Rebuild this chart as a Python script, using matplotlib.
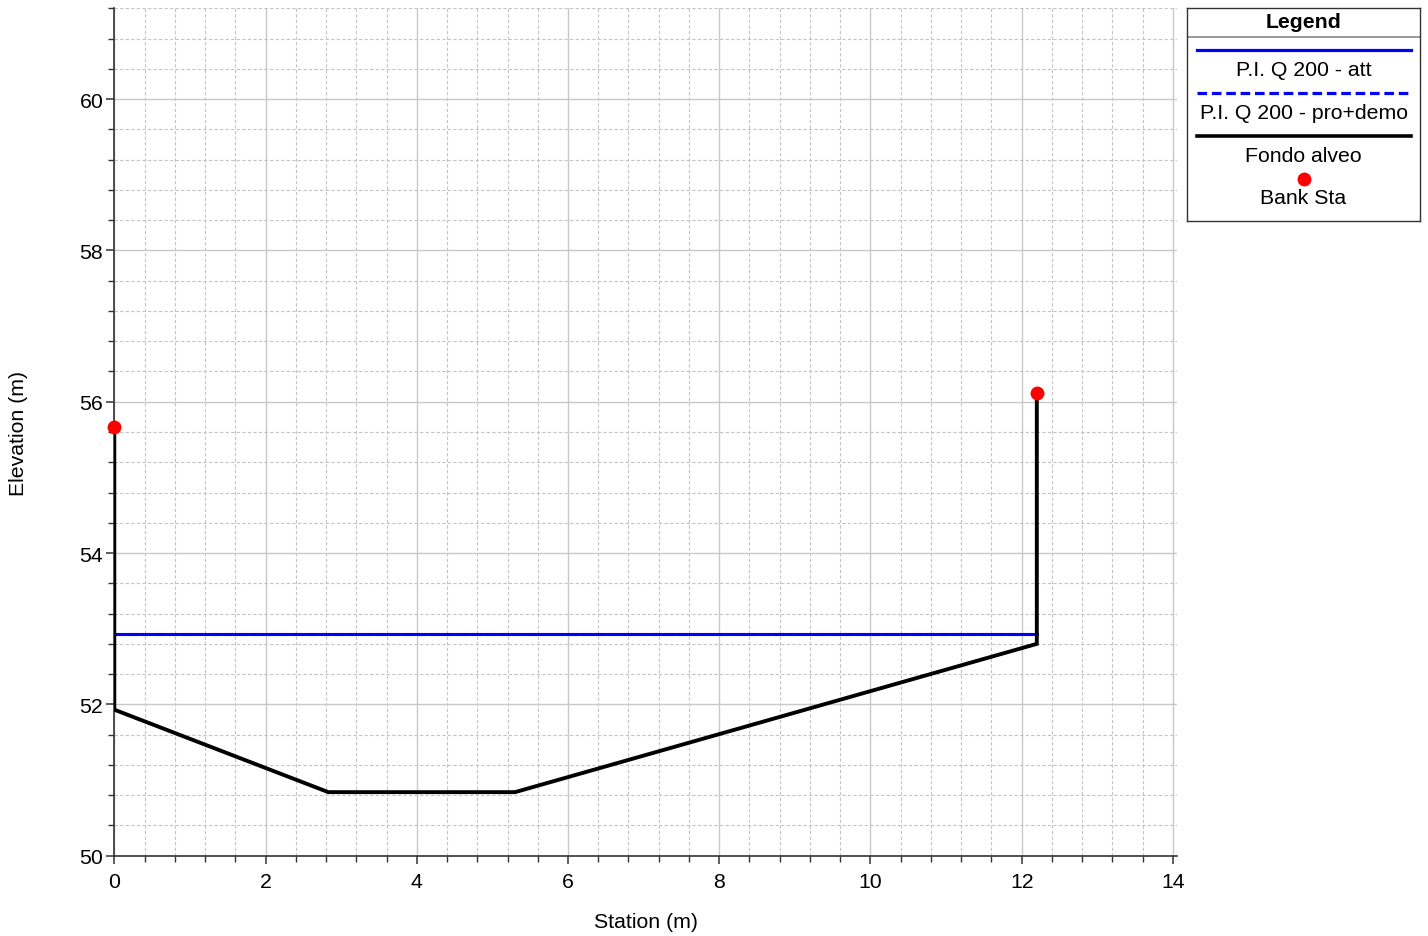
import matplotlib
matplotlib.use("Agg")
import matplotlib.pyplot as plt
from matplotlib.ticker import MultipleLocator
from matplotlib.lines import Line2D

plt.rcParams['font.family'] = ['Liberation Sans', 'DejaVu Sans']

# Sezione trasversale: stazioni e quote del fondo alveo
stazioni = [0.0, 0.0, 2.83, 5.30, 12.20, 12.20]
quote_fondo = [55.67, 51.93, 50.84, 50.84, 52.80, 56.11]

# Pelo libero Q 200 (stato attuale e progetto+demolizione)
ws_stazioni = [0.0, 12.20]
ws_att = [52.93, 52.93]
ws_pro = [52.93, 52.93]

# Sponde (Bank Sta)
bank_x = [0.0, 12.20]
bank_y = [55.67, 56.11]

W, H = 1428, 937
FS = 15.3
fig = plt.figure(figsize=(W / 100, H / 100), dpi=100)
ax = fig.add_axes([114.3 / W, 1 - 856.7 / H, (1176.7 - 114.3) / W, (856.7 - 9.3) / H])

ax.plot(ws_stazioni, ws_pro, color='#0000ff', lw=2.2, ls=(0, (3, 1.5)), zorder=3)
ax.plot(ws_stazioni, ws_att, color='#0000ff', lw=2.2, zorder=4)
ax.plot(stazioni, quote_fondo, color='black', lw=2.8, zorder=5, solid_joinstyle='miter')
ax.plot(bank_x, bank_y, 'o', color='#ff0000', ms=10, mec='none', zorder=6, clip_on=False)

ax.set_xlim(0, 14.05)
ax.set_ylim(50, 61.2)
ax.xaxis.set_major_locator(MultipleLocator(2))
ax.xaxis.set_minor_locator(MultipleLocator(0.4))
ax.yaxis.set_major_locator(MultipleLocator(2))
ax.yaxis.set_minor_locator(MultipleLocator(0.4))

ax.grid(which='major', color='#c8c8c8', lw=1.0, ls='-')
ax.grid(which='minor', color='#c4c4c4', lw=0.8, ls=(0, (3, 2)))
ax.set_axisbelow(True)

for s in ['top', 'right']:
    ax.spines[s].set_visible(False)
for s in ['left', 'bottom']:
    ax.spines[s].set_color('#333333')
    ax.spines[s].set_linewidth(1.2)

ax.tick_params(which='major', length=6, width=1.1, color='#333333', labelsize=FS)
ax.tick_params(axis='x', which='major', pad=5.5)
ax.tick_params(axis='y', which='major', pad=2)
ax.tick_params(which='minor', length=4, width=1.0, color='#333333')

ax.set_xlabel('Station (m)', fontsize=FS, labelpad=15)
ax.set_ylabel('Elevation (m)', fontsize=FS, labelpad=37)

# Legenda disegnata a mano: campione sopra, etichetta sotto
lg = fig.add_axes([1187 / W, 1 - 222 / H, (1420 - 1187) / W, (222 - 9) / H])
lg.set_xlim(0, 233)
lg.set_ylim(213, 0)
lg.set_xticks([])
lg.set_yticks([])
for s in lg.spines.values():
    s.set_color('#333333')
    s.set_linewidth(1.0)

lg.text(116.5, 13, 'Legend', ha='center', va='center', fontsize=FS, fontweight='bold')
lg.add_line(Line2D([0, 233], [29, 29], color='#888888', lw=1.2))

voci = [
    ('P.I. Q 200 - att', dict(color='#0000ff', lw=2.3, ls='-')),
    ('P.I. Q 200 - pro+demo', dict(color='#0000ff', lw=2.3, ls=(0, (3, 1.5)))),
    ('Fondo alveo', dict(color='black', lw=2.6, ls='-')),
]
y0 = 41.5
for nome, stile in voci:
    lg.add_line(Line2D([10, 224], [y0, y0], **stile))
    lg.text(116.5, y0 + 20, nome, ha='center', va='center', fontsize=FS)
    y0 += 43
lg.plot([116.5], [170.5], 'o', color='#ff0000', ms=10, mec='none')
lg.text(116.5, 189, 'Bank Sta', ha='center', va='center', fontsize=FS)

fig.savefig('out.png', dpi=100)
